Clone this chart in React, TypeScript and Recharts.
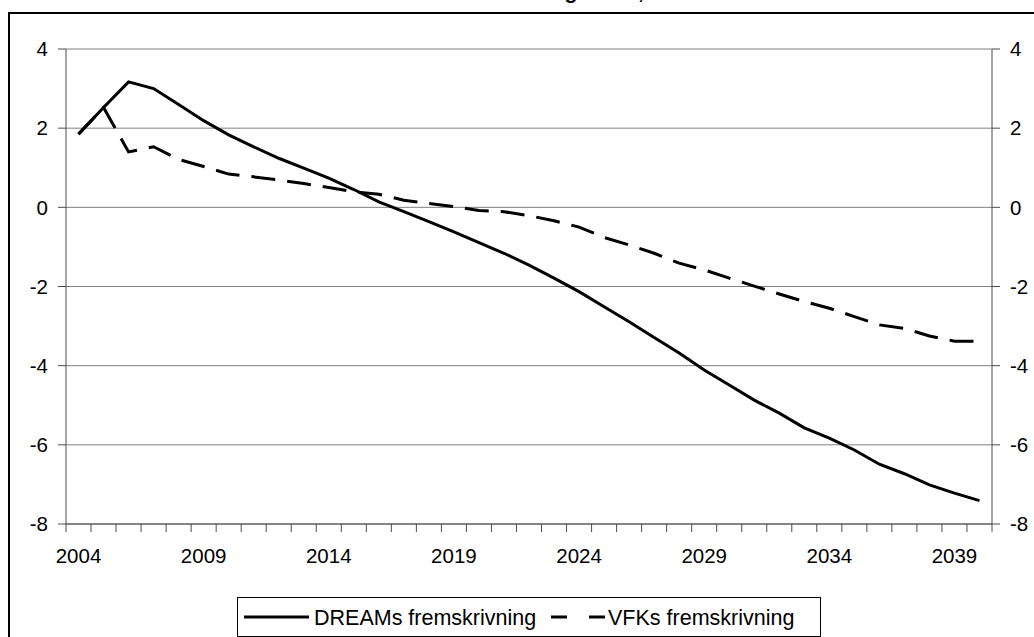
import React from 'react'
import { LineChart, Line, XAxis, YAxis, CartesianGrid } from 'recharts'

const years = [
  2004, 2005, 2006, 2007, 2008, 2009, 2010, 2011, 2012, 2013, 2014, 2015, 2016,
  2017, 2018, 2019, 2020, 2021, 2022, 2023, 2024, 2025, 2026, 2027, 2028, 2029,
  2030, 2031, 2032, 2033, 2034, 2035, 2036, 2037, 2038, 2039, 2040,
]

const dreams = [
  1.85, 2.52, 3.17, 3.0, 2.6, 2.19, 1.83, 1.53, 1.24, 0.99, 0.74, 0.45, 0.14,
  -0.11, -0.36, -0.62, -0.89, -1.16, -1.46, -1.79, -2.13, -2.51, -2.89, -3.29,
  -3.68, -4.11, -4.49, -4.87, -5.2, -5.57, -5.83, -6.13, -6.49, -6.73, -7.01,
  -7.22, -7.41,
]

const vfk = [
  1.85, 2.52, 1.4, 1.53, 1.21, 1.03, 0.84, 0.77, 0.69, 0.6, 0.5, 0.39, 0.33,
  0.18, 0.1, 0.02, -0.08, -0.11, -0.21, -0.34, -0.5, -0.76, -0.95, -1.16, -1.41,
  -1.58, -1.79, -1.99, -2.19, -2.38, -2.55, -2.76, -2.97, -3.06, -3.25, -3.38,
  -3.38,
]

const yearLabels = [2004, 2009, 2014, 2019, 2024, 2029, 2034, 2039]
const valueTicks = [-8, -6, -4, -2, 0, 2, 4]

const data = years.map((year, i) => ({ year, dreams: dreams[i], vfk: vfk[i] }))
// tick marks sit between the years, like a category axis
const boundaries = years.map((y) => y - 0.5).concat([years[years.length - 1] + 0.5])

const font = '"Liberation Sans", Arial, sans-serif'
const axisColor = '#4d4d4d'
const tickText = { fill: '#000', fontSize: 20.5, fontFamily: font }

function YearTick(props: any) {
  const { x, y, width, payload } = props
  const year = payload.value + 0.5
  if (!yearLabels.includes(year)) return <g />
  const band = width / (boundaries.length - 1)
  return (
    <text x={x + band / 2} y={y} dy="0.71em" textAnchor="middle" {...tickText}>
      {year}
    </text>
  )
}

export default function App() {
  return (
    <div
      style={{
        position: 'absolute',
        left: 0,
        top: 0,
        width: 1034,
        height: 637,
        overflow: 'hidden',
        background: '#fff',
        fontFamily: font,
      }}
    >
      <div
        style={{
          position: 'absolute',
          left: 491,
          top: -19,
          fontSize: 21,
          fontWeight: 'bold',
          whiteSpace: 'nowrap',
          lineHeight: '21px',
        }}
      >
        Offentlig saldo, 2004-2040
      </div>
      <div
        style={{
          position: 'absolute',
          left: 8,
          top: 12,
          width: 1060,
          height: 660,
          border: '2px solid #000',
        }}
      />
      <div style={{ position: 'absolute', left: 0, top: 0 }}>
        <LineChart width={1034} height={637} data={data} margin={{ top: 49, right: 0, left: 0, bottom: 73 }}>
          <CartesianGrid vertical={false} stroke="#808080" />
          <XAxis
            dataKey="year"
            type="number"
            domain={[2003.5, 2040.5]}
            allowDataOverflow
            ticks={boundaries}
            interval={0}
            height={40}
            tickSize={8}
            tickMargin={16}
            tick={<YearTick />}
            stroke={axisColor}
          />
          <YAxis
            domain={[-8, 4]}
            ticks={valueTicks}
            interval={0}
            width={66}
            tickSize={8}
            tickMargin={10}
            stroke={axisColor}
            tick={tickText}
          />
          <YAxis
            yAxisId="r"
            orientation="right"
            domain={[-8, 4]}
            ticks={valueTicks}
            interval={0}
            width={42}
            tickSize={8}
            tickMargin={10}
            stroke={axisColor}
            tick={{ ...tickText, textAnchor: 'start' }}
          />
          <Line
            dataKey="dreams"
            type="linear"
            stroke="#000"
            strokeWidth={3}
            dot={false}
            isAnimationActive={false}
          />
          <Line
            dataKey="vfk"
            yAxisId="r"
            type="linear"
            stroke="#000"
            strokeWidth={3}
            strokeDasharray="24 12"
            dot={false}
            isAnimationActive={false}
          />
        </LineChart>
      </div>
      <div
        style={{
          position: 'absolute',
          left: 237,
          top: 597,
          width: 584,
          height: 40,
          border: '1px solid #000',
          boxSizing: 'border-box',
          background: '#fff',
        }}
      >
        <svg width={584} height={40} style={{ position: 'absolute', left: 0, top: 0 }}>
          <line x1={6} x2={71} y1={19} y2={19} stroke="#000" strokeWidth={3} />
          <line x1={313} x2={367} y1={19} y2={19} stroke="#000" strokeWidth={3} strokeDasharray="16 22" />
          <text x={76} y={26.5} fontSize={21.5} fontFamily={font} fill="#000">
            DREAMs fremskrivning
          </text>
          <text x={370} y={26.5} fontSize={21.5} fontFamily={font} fill="#000">
            VFKs fremskrivning
          </text>
        </svg>
      </div>
    </div>
  )
}
